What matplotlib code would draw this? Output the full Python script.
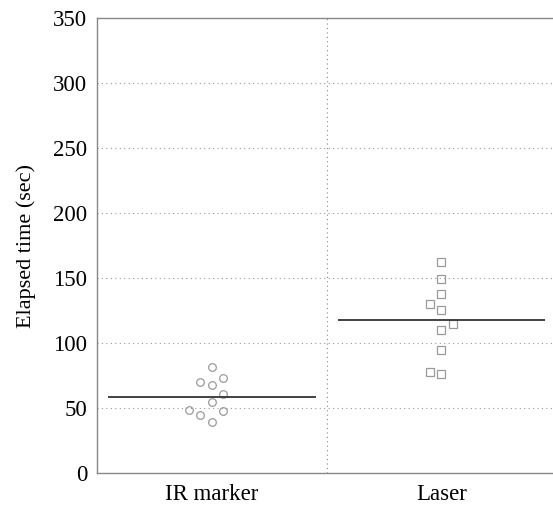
import numpy as np
from matplotlib import pyplot as plt

groups = ["IR marker", "Laser"]
ir_offsets = [0.0, -0.05, 0.0, 0.05, 0.05, 0.0, -0.1, 0.05, -0.05, 0.0]
ir_times = [81.8, 69.8, 67.9, 73.3, 60.5, 54.9, 48.7, 47.7, 44.4, 39.0]
laser_offsets = [0.0, 0.0, 0.0, -0.05, 0.0, 0.05, 0.0, 0.0, -0.05, 0.0]
laser_times = [162.5, 149.2, 137.7, 130.2, 125.4, 114.4, 109.8, 94.6, 77.5, 75.9]
means = [58.5, 117.7]
yticks = [0, 50, 100, 150, 200, 250, 300, 350]

plt.rcParams['font.family'] = ['Liberation Serif', 'DejaVu Serif']

fig = plt.figure(figsize=(5.53, 5.05), dpi=100)
ax = fig.add_axes([97 / 553, 1 - 473 / 505, 459 / 553, 455 / 505])

ax.set_xlim(0, 2)
ax.set_ylim(0, 350)

for y in yticks[1:-1]:
    ax.axhline(y, color='#999999', lw=0.8, ls=(0, (1, 3)), zorder=0)
ax.axvline(1.0, color='#888888', lw=0.8, ls=(0, (1, 3)), zorder=0)

ax.plot(0.5 + np.array(ir_offsets), ir_times, 'o', mfc='none', mec='#9a9a9a',
        ms=5.5, mew=0.9)
ax.plot(1.5 + np.array(laser_offsets), laser_times, 's', mfc='none', mec='#9a9a9a',
        ms=5.5, mew=0.9)

ax.hlines(means[0], 0.05, 0.955, color='#333333', lw=1.3)
ax.hlines(means[1], 1.05, 1.95, color='#333333', lw=1.3)

ax.set_yticks(yticks)
ax.set_xticks([0.5, 1.5])
ax.set_xticklabels(groups)
ax.tick_params(axis='both', labelsize=16.5, length=0)
ax.tick_params(axis='y', pad=7)
ax.tick_params(axis='x', pad=8)
ax.set_ylabel("Elapsed time (sec)", fontsize=16, labelpad=12)

for s in ax.spines.values():
    s.set_color('#888888')
    s.set_linewidth(1.0)

fig.savefig("out.png", dpi=100)
